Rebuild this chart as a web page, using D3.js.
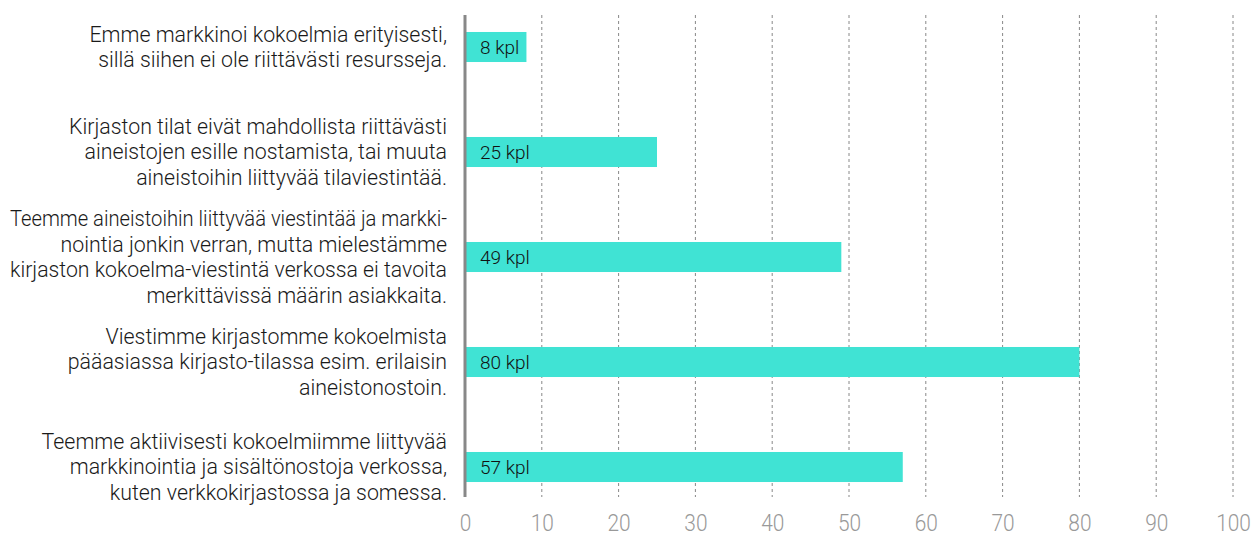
<!DOCTYPE html>
<html>
<head>
<meta charset="utf-8">
<script src="https://cdn.jsdelivr.net/npm/d3@7"></script>
<style>
  html, body { margin: 0; padding: 0; background: #fff; }
  svg text { font-family: Roboto, "Liberation Sans", sans-serif; font-weight: 300; }
</style>
</head>
<body>
<svg id="chart" width="1253" height="538"></svg>
<script>
'use strict';

// categories (label lines, top to bottom)
var categories = [
  ['Emme markkinoi kokoelmia erityisesti,', 'sillä siihen ei ole riittävästi resursseja.'],
  ['Kirjaston tilat eivät mahdollista riittävästi', 'aineistojen esille nostamista, tai muuta', 'aineistoihin liittyvää tilaviestintää.'],
  ['Teemme aineistoihin liittyvää viestintää ja markki-', 'nointia jonkin verran, mutta mielestämme', 'kirjaston kokoelma-viestintä verkossa ei tavoita', 'merkittävissä määrin asiakkaita.'],
  ['Viestimme kirjastomme kokoelmista', 'pääasiassa kirjasto-tilassa esim. erilaisin', 'aineistonostoin.'],
  ['Teemme aktiivisesti kokoelmiimme liittyvää', 'markkinointia ja sisältönostoja verkossa,', 'kuten verkkokirjastossa ja somessa.']
];
var values = [8, 25, 49, 80, 57];
var ticks = [0, 10, 20, 30, 40, 50, 60, 70, 80, 90, 100];
var unit = ' kpl';

var svg = d3.select('#chart');

var x = d3.scaleLinear().domain([0, 100]).range([465, 1233]);
var y = d3.scaleBand().domain(d3.range(categories.length)).range([-5.5, 519.5]).paddingInner(0.714).paddingOuter(0.357);

var plotTop = 15, plotBottom = 497;
var labelRight = 447, labelMaxW = 437;

// dashed gridlines
svg.append('g')
  .selectAll('line')
  .data(ticks.slice(1))
  .join('line')
    .attr('x1', function(d) { return x(d); })
    .attr('x2', function(d) { return x(d); })
    .attr('y1', plotTop)
    .attr('y2', plotBottom)
    .attr('stroke', '#888')
    .attr('stroke-width', 1)
    .attr('stroke-dasharray', '3,3');

// x axis labels (narrowed to look condensed)
var xAxis = d3.axisBottom(x).tickValues(ticks).tickSize(0).tickPadding(0);
var axisG = svg.append('g').attr('transform', 'translate(0,' + 523 + ')').call(xAxis);
axisG.select('.domain').remove();
axisG.selectAll('text')
  .attr('fill', '#999')
  .attr('font-size', 24)
  .attr('y', 0)
  .attr('dy', '0.35em')
  .attr('transform', 'scale(0.87,1)')
  .style('font-family', null)
  .style('font-weight', 300);

// bars
var bars = svg.append('g').selectAll('g').data(values).join('g');
bars.append('rect')
  .attr('x', x(0))
  .attr('y', function(d, i) { return y(i); })
  .attr('width', function(d) { return x(d) - x(0); })
  .attr('height', y.bandwidth())
  .attr('fill', '#40E3D4');
bars.append('text')
  .attr('x', x(0) + 15)
  .attr('y', function(d, i) { return y(i) + y.bandwidth() / 2; })
  .attr('dy', '0.35em')
  .attr('font-size', 19)
  .attr('fill', '#111')
  .text(function(d) { return d + unit; });

// vertical axis line
svg.append('line')
  .attr('x1', x(0)).attr('x2', x(0))
  .attr('y1', plotTop).attr('y2', plotBottom)
  .attr('stroke', '#888')
  .attr('stroke-width', 3);

// category labels, one text per line, centred on the bar
var lineH = 25.5;
var labelLines = [];
categories.forEach(function(lines, i) {
  var top = y(i) + y.bandwidth() / 2 - (lines.length - 1) * lineH / 2;
  lines.forEach(function(str, j) {
    labelLines.push({ text: str, y: top + j * lineH });
  });
});

svg.append('g').selectAll('text').data(labelLines).join('text')
  .attr('text-anchor', 'end')
  .attr('font-size', 21.35)
  .attr('fill', '#1a1a1a')
  .attr('x', labelRight)
  .attr('y', function(d) { return d.y; })
  .attr('dy', '0.35em')
  .text(function(d) { return d.text; })
  .each(function() {
    // squeeze a line that would run past the left margin
    if (this.getComputedTextLength() > labelMaxW) {
      d3.select(this)
        .attr('textLength', labelMaxW)
        .attr('lengthAdjust', 'spacingAndGlyphs');
    }
  });
</script>
</body>
</html>
